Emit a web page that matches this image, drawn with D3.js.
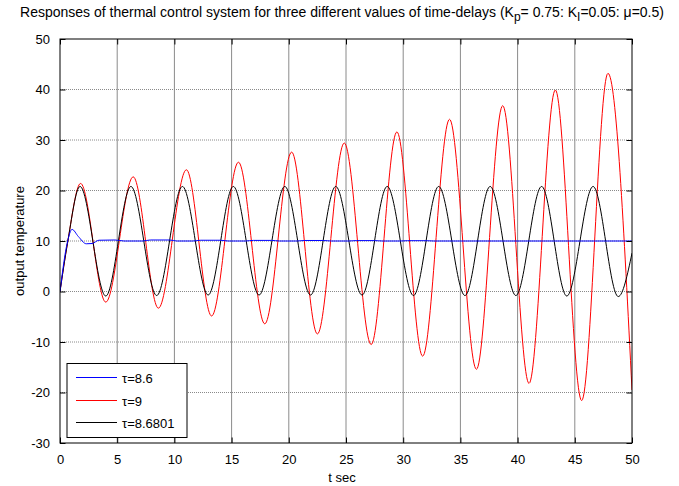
<!DOCTYPE html>
<html><head><meta charset="utf-8">
<script src="https://cdn.jsdelivr.net/npm/d3@7"></script>
<style>body{margin:0;background:#fff}svg{display:block}text{font-family:Arial,"Liberation Sans",sans-serif}</style>
</head><body><svg id="c" width="679" height="486"></svg>
<script>
const xTicks = [0,5,10,15,20,25,30,35,40,45,50];
const yTicks = [-30,-20,-10,0,10,20,30,40,50];
// tau = 8.6 (blue): [t, value]
const blueTau86 = [[0,0],[0.65,9.8],[1.05,12.3],[1.6,10.9],[2.3,9.45],[2.8,9.5],[3.4,10.15],[4.8,10.2],[5.6,10.0],[7.2,10.0],[7.9,10.2],[9.6,10.2],[10.2,10.0],[11.6,10.0],[12.3,10.15],[14.0,10.15],[14.7,10.0],[16.2,10.0],[16.9,10.12],[18.5,10.12],[19.2,10.0],[20.7,10.0],[21.4,10.1],[23.0,10.1],[23.7,10.0],[25.2,10.0],[25.9,10.08],[27.5,10.08],[28.2,10.0],[29.7,10.0],[30.4,10.06],[32.0,10.06],[32.7,10.0],[50,10.0]];
// tau = 9 (red)
const redTau9 = [[0,0],[0.65,9.5],[1.8,21.4],[4.0,-2.1],[6.4,22.7],[8.6,-3.3],[11.05,24.1],[13.25,-4.85],[15.6,25.6],[17.9,-6.4],[20.25,27.6],[22.5,-8.4],[24.85,29.4],[27.2,-10.5],[29.45,31.6],[31.7,-12.8],[34.05,34.1],[36.4,-15.4],[38.7,36.8],[41.0,-18.2],[43.3,39.9],[45.6,-21.6],[47.9,43.2],[50,-19.5]];
// tau = 8.6801 (black)
const blackTau86801 = [[0,0],[0.65,9.5],[1.75,20.8],[4.0,-0.9],[6.2,20.8],[8.45,-0.8],[10.7,20.8],[12.95,-0.7],[15.15,20.8],[17.4,-0.7],[19.65,20.8],[21.9,-0.7],[24.1,20.8],[26.4,-0.7],[28.6,20.8],[30.9,-0.8],[33.1,20.8],[35.4,-0.8],[37.6,20.8],[39.85,-0.8],[42.1,20.8],[44.3,-0.9],[46.6,20.8],[48.8,-1.0],[50,7.6]];
const seriesNames = ["\u03c4=8.6","\u03c4=9","\u03c4=8.6801"];
const seriesColors = ["#0000ff","#ff0000","#000000"];

const svg = d3.select("#c");
const L=60, R=632, T=39, B=443;
const x = d3.scaleLinear().domain([0,50]).range([L,R]);
const y = d3.scaleLinear().domain([-30,50]).range([B,T]);
const tk = 5.5;
const fmt = d => String(d);

// grid
const g = svg.append("g");
g.selectAll(".vg").data(xTicks.slice(1,-1)).enter().append("line")
 .attr("x1",d=>x(d)).attr("x2",d=>x(d)).attr("y1",T).attr("y2",B)
 .attr("stroke","#8a8a8a").attr("stroke-width",1);
g.selectAll(".hg").data(yTicks.slice(1,-1)).enter().append("line")
 .attr("x1",L).attr("x2",R).attr("y1",d=>y(d)).attr("y2",d=>y(d))
 .attr("stroke","#8a8a8a").attr("stroke-width",1).attr("stroke-dasharray","1,1");

// lines
const line = d3.line().x(d=>x(d[0])).y(d=>y(d[1])).curve(d3.curveMonotoneX);
svg.append("clipPath").attr("id","cp").append("rect").attr("x",L).attr("y",T).attr("width",R-L).attr("height",B-T);
const data = [blueTau86, redTau9, blackTau86801];
[1,2,0].forEach(i=>{
  svg.append("path").attr("d",line(data[i])).attr("fill","none")
   .attr("stroke",seriesColors[i]).attr("stroke-width",1).attr("clip-path","url(#cp)");
});

// axes with inward ticks
const axB = d3.axisBottom(x).tickValues(xTicks).tickSize(-tk).tickPadding(12).tickFormat(fmt);
const axT = d3.axisTop(x).tickValues(xTicks).tickSize(-tk).tickFormat("");
const axLft = d3.axisLeft(y).tickValues(yTicks).tickSize(-tk).tickPadding(10).tickFormat(fmt);
const axRgt = d3.axisRight(y).tickValues(yTicks).tickSize(-tk).tickFormat("");
function style(sel){sel.selectAll("path").remove();sel.selectAll("line").attr("stroke","#000");
 sel.selectAll("text").attr("font-size",13).attr("fill","#000").attr("font-family","Arial, 'Liberation Sans', sans-serif");}
svg.append("g").attr("transform",`translate(0,${B})`).call(axB).call(style);
svg.append("g").attr("transform",`translate(0,${T})`).call(axT).call(style);
svg.append("g").attr("transform",`translate(${L},0)`).call(axLft).call(style);
svg.append("g").attr("transform",`translate(${R},0)`).call(axRgt).call(style);
svg.append("rect").attr("x",L).attr("y",T).attr("width",R-L).attr("height",B-T)
 .attr("fill","none").attr("stroke","#000").attr("stroke-width",1);

// legend
const lg = svg.append("g");
lg.append("rect").attr("x",67).attr("y",363.5).attr("width",120).attr("height",74)
 .attr("fill","#fff").attr("stroke","#000").attr("stroke-width",1);
seriesNames.forEach((n,i)=>{
  const yy = [377.5,400.5,422.5][i];
  lg.append("line").attr("x1",76).attr("x2",117).attr("y1",yy).attr("y2",yy).attr("stroke",seriesColors[i]).attr("stroke-width",1);
  lg.append("text").attr("x",122).attr("y",yy+5).attr("font-size",13).text(n);
});

// labels
svg.append("text").attr("x",342).attr("y",482).attr("text-anchor","middle").attr("font-size",13).text("t sec");
svg.append("text").attr("transform","translate(24,241) rotate(-90)").attr("text-anchor","middle").attr("font-size",13).text("output temperature");
const title = svg.append("text").attr("x",342).attr("y",17).attr("text-anchor","middle").attr("font-size",14);
title.append("tspan").text("Responses of thermal control system for three different values of time-delays (K");
title.append("tspan").attr("dy",4).attr("font-size",12).text("p");
title.append("tspan").attr("dy",-4).text("= 0.75: K");
title.append("tspan").attr("dy",4).attr("font-size",12).text("I");
title.append("tspan").attr("dy",-4).text("=0.05: \u03bc=0.5)");
</script></body></html>
